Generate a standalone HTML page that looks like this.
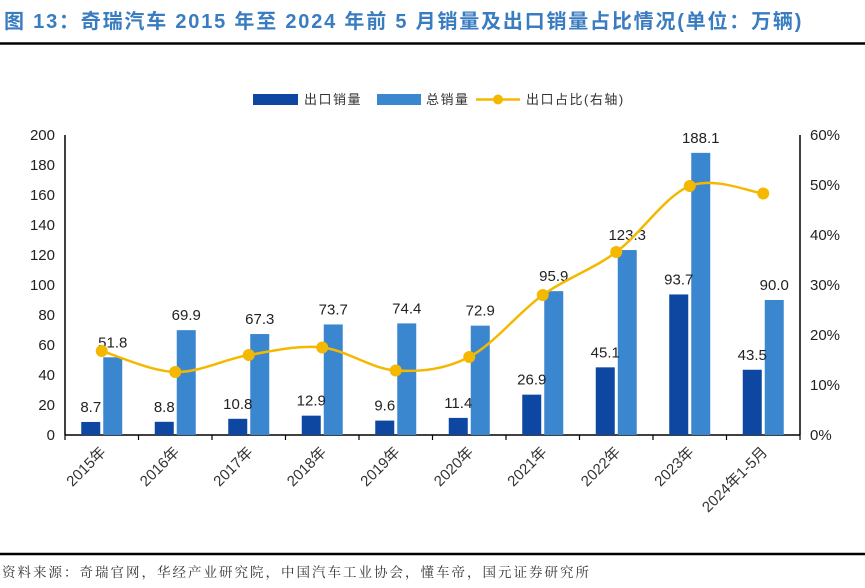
<!DOCTYPE html>
<html><head><meta charset="utf-8">
<style>
body{margin:0;background:#fff;width:865px;height:583px;overflow:hidden;font-family:"Liberation Sans","Noto Sans CJK SC",sans-serif;}
</style></head>
<body>
<svg id="c" width="865" height="583" xmlns="http://www.w3.org/2000/svg">
<text x="4" y="28" font-size="20" font-weight="bold" fill="#3a7cc0" letter-spacing="1.8" font-family="Liberation Sans,Noto Sans CJK SC,sans-serif">图 13：奇瑞汽车 2015 年至 2024 年前 5 月销量及出口销量占比情况(单位：万辆)</text>
<line x1="0" y1="43.5" x2="865" y2="43.5" stroke="#000" stroke-width="2.5"/>
<line x1="0" y1="554" x2="865" y2="554" stroke="#000" stroke-width="2.5"/>
<text x="2" y="577" font-size="13.5" fill="#333" letter-spacing="2" font-family="Liberation Serif,Noto Serif CJK SC,serif">资料来源：奇瑞官网，华经产业研究院，中国汽车工业协会，懂车帝，国元证券研究所</text>
<g id="legend">
<rect x="253" y="94" width="45" height="11" fill="#0d47a1"/>
<text x="304" y="104" font-size="13" fill="#333" letter-spacing="1.5">出口销量</text>
<rect x="377" y="94" width="44" height="11" fill="#3a87d0"/>
<text x="426" y="104" font-size="13" fill="#333" letter-spacing="1.5">总销量</text>
<line x1="476" y1="99.5" x2="520" y2="99.5" stroke="#f5b800" stroke-width="2.5"/>
<circle cx="498" cy="99.5" r="5" fill="#f5b800"/>
<text x="526" y="104" font-size="13" fill="#333" letter-spacing="1.5">出口占比(右轴)</text>
</g>
<g id="plot"></g>
</svg>
<script>
const categories=["2015年","2016年","2017年","2018年","2019年","2020年","2021年","2022年","2023年","2024年1-5月"];
const exportSales=[8.7,8.8,10.8,12.9,9.6,11.4,26.9,45.1,93.7,43.5];
const totalSales=[51.8,69.9,67.3,73.7,74.4,72.9,95.9,123.3,188.1,90.0];
const exportRatio=[16.8,12.6,16.0,17.5,12.9,15.6,28.0,36.6,49.8,48.3];
const leftTicks=[0,20,40,60,80,100,120,140,160,180,200];
const rightTicks=[0,10,20,30,40,50,60];

const NS="http://www.w3.org/2000/svg";
const g=document.getElementById('plot');
const X0=65,X1=800,Y0=435,Y1=135;
const band=(X1-X0)/categories.length;
const yL=v=>Y0-(v/200)*(Y0-Y1);
const yR=v=>Y0-(v/60)*(Y0-Y1);
const xc=i=>X0+band*(i+0.5);
function mk(t,a){const e=document.createElementNS(NS,t);for(const k in a)e.setAttribute(k,a[k]);g.appendChild(e);return e;}

leftTicks.forEach(v=>{
  const t=mk('text',{x:X0-10,y:yL(v)+5,'font-size':15,fill:'#222','text-anchor':'end'});t.textContent=v;
  
  
});
rightTicks.forEach(v=>{
  const t=mk('text',{x:X1+10,y:yR(v)+5,'font-size':15,fill:'#222'});t.textContent=v+'%';
  
  
});
let ax=mk('line',{x1:X0,y1:Y1,x2:X0,y2:Y0,stroke:'#000','stroke-width':1.5});


ax=mk('line',{x1:X1,y1:Y1,x2:X1,y2:Y0,stroke:'#000','stroke-width':1.5});


ax=mk('line',{x1:X0,y1:Y0,x2:X1,y2:Y0,stroke:'#000','stroke-width':1.5});


for(let i=0;i<=categories.length;i++){
  const tk=mk('line',{x1:X0+band*i,y1:Y0,x2:X0+band*i,y2:Y0+5,stroke:'#000','stroke-width':1.2});
  
  
}
const bw=19;
categories.forEach((c,i)=>{
  const cx=xc(i);
  const b1=mk('rect',{x:cx-bw-1.5,y:yL(exportSales[i]),width:bw,height:Y0-yL(exportSales[i]),fill:'#0d47a1'});
  
  
  const b2=mk('rect',{x:cx+1.5,y:yL(totalSales[i]),width:bw,height:Y0-yL(totalSales[i]),fill:'#3a87d0'});
  
  
  const l1=mk('text',{x:cx-bw/2-1.5,y:yL(exportSales[i])-10,'font-size':15,fill:'#222','text-anchor':'middle'});
  l1.textContent=exportSales[i].toFixed(1);
  
  
  const l2=mk('text',{x:cx+bw/2+1.5,y:yL(totalSales[i])-10,'font-size':15,fill:'#222','text-anchor':'middle'});
  l2.textContent=totalSales[i].toFixed(1);
  
  
  const xl=mk('text',{x:0,y:0,'font-size':15,fill:'#333','text-anchor':'end',transform:`translate(${cx+5},${Y0+18}) rotate(-45)`});
  xl.textContent=c;
  
  
});
const pts=exportRatio.map((v,i)=>[xc(i),yR(v)]);
let d='M'+pts[0][0]+','+pts[0][1];
for(let i=0;i<pts.length-1;i++){
  const p0=pts[Math.max(0,i-1)],p1=pts[i],p2=pts[i+1],p3=pts[Math.min(pts.length-1,i+2)];
  const c1=[p1[0]+(p2[0]-p0[0])/6,p1[1]+(p2[1]-p0[1])/6];
  const c2=[p2[0]-(p3[0]-p1[0])/6,p2[1]-(p3[1]-p1[1])/6];
  d+=` C${c1[0]},${c1[1]} ${c2[0]},${c2[1]} ${p2[0]},${p2[1]}`;
}
const ln=mk('path',{d:d,fill:'none',stroke:'#f5b800','stroke-width':2.5});


pts.forEach((p,i)=>{
  const m=mk('circle',{cx:p[0],cy:p[1],r:6,fill:'#f5b800'});
  
  
});
</script>
</body></html>
